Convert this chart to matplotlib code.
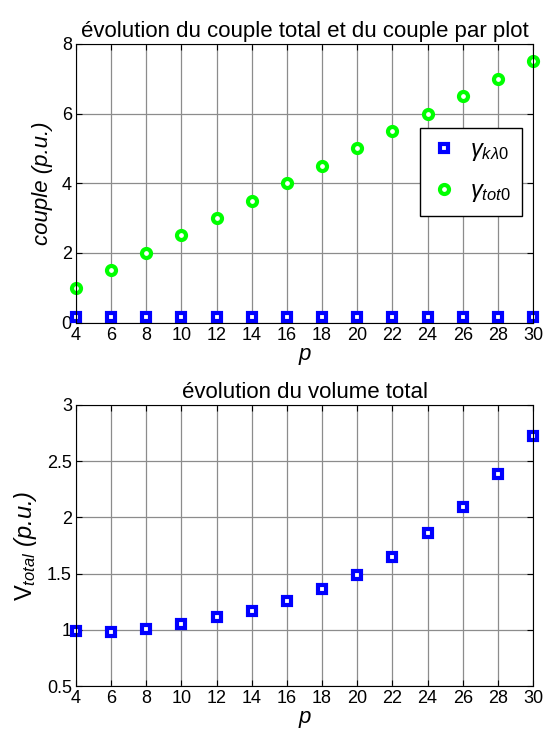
import matplotlib
matplotlib.use('Agg')
import matplotlib.pyplot as plt

plt.rcParams['font.family'] = ['Liberation Sans', 'DejaVu Sans']
plt.rcParams['mathtext.fontset'] = 'custom'
plt.rcParams['mathtext.rm'] = 'Liberation Sans'
plt.rcParams['mathtext.it'] = 'Liberation Sans:italic'

# data
p = [4, 6, 8, 10, 12, 14, 16, 18, 20, 22, 24, 26, 28, 30]
couple_kl0 = [0.15] * 14
couple_tot0 = [1.0, 1.5, 2.0, 2.5, 3.0, 3.5, 4.0, 4.5, 5.0, 5.5, 6.0, 6.5, 7.0, 7.5]
v_total = [0.99, 0.98, 1.01, 1.05, 1.11, 1.17, 1.26, 1.36, 1.49, 1.65, 1.86, 2.09, 2.39, 2.72]

FS = 13


def style_axes(ax):
    ax.set_xlim(4, 30)
    ax.set_xticks(p)
    ax.grid(True, color='0.55', lw=0.9)
    ax.tick_params(direction='in', top=True, right=True, labelsize=FS, length=4, pad=3)
    ax.set_axisbelow(True)


fig = plt.figure(figsize=(5.43, 7.33), dpi=100)

ax1 = fig.add_axes([0.140, 0.560, 0.8416, 0.380])
ax1.plot(p, couple_kl0, 's', ms=6, mfc='white', mec='#0000ff', mew=3,
         label=r'$\gamma_{\mathit{k\lambda0}}$', clip_on=False)
ax1.plot(p, couple_tot0, 'o', ms=6.5, mfc='white', mec='#00ff00', mew=3,
         label=r'$\gamma_{\mathit{tot0}}$', clip_on=False)
style_axes(ax1)
ax1.set_ylim(0, 8)
ax1.set_yticks([0, 2, 4, 6, 8])
ax1.set_title('évolution du couple total et du couple par plot', fontsize=16, pad=5)
ax1.set_ylabel('couple (p.u.)', fontsize=16, fontstyle='italic', labelpad=6)
ax1.set_xlabel('p', fontsize=16, fontstyle='italic', labelpad=0)
leg = ax1.legend(loc='upper right', bbox_to_anchor=(0.976, 0.70), fontsize=17,
                 frameon=True, fancybox=False, edgecolor='black', framealpha=1,
                 handlelength=1.0, handletextpad=0.6, borderpad=0.5,
                 labelspacing=0.7, borderaxespad=0)
leg.get_frame().set_linewidth(1.0)

ax2 = fig.add_axes([0.140, 0.0641, 0.8416, 0.3834])
ax2.plot(p, v_total, 's', ms=6, mfc='white', mec='#0000ff', mew=3, clip_on=False)
style_axes(ax2)
ax2.set_ylim(0.5, 3)
ax2.set_yticks([0.5, 1, 1.5, 2, 2.5, 3])
ax2.set_yticklabels(['0.5', '1', '1.5', '2', '2.5', '3'])
ax2.set_title('évolution du volume total', fontsize=16, pad=5)
ax2.set_ylabel(r'$\mathrm{V}_{total}$ (p.u.)', fontsize=17, fontstyle='italic', labelpad=6)
ax2.set_xlabel('p', fontsize=16, fontstyle='italic', labelpad=0)

fig.savefig('out.png', dpi=100)
